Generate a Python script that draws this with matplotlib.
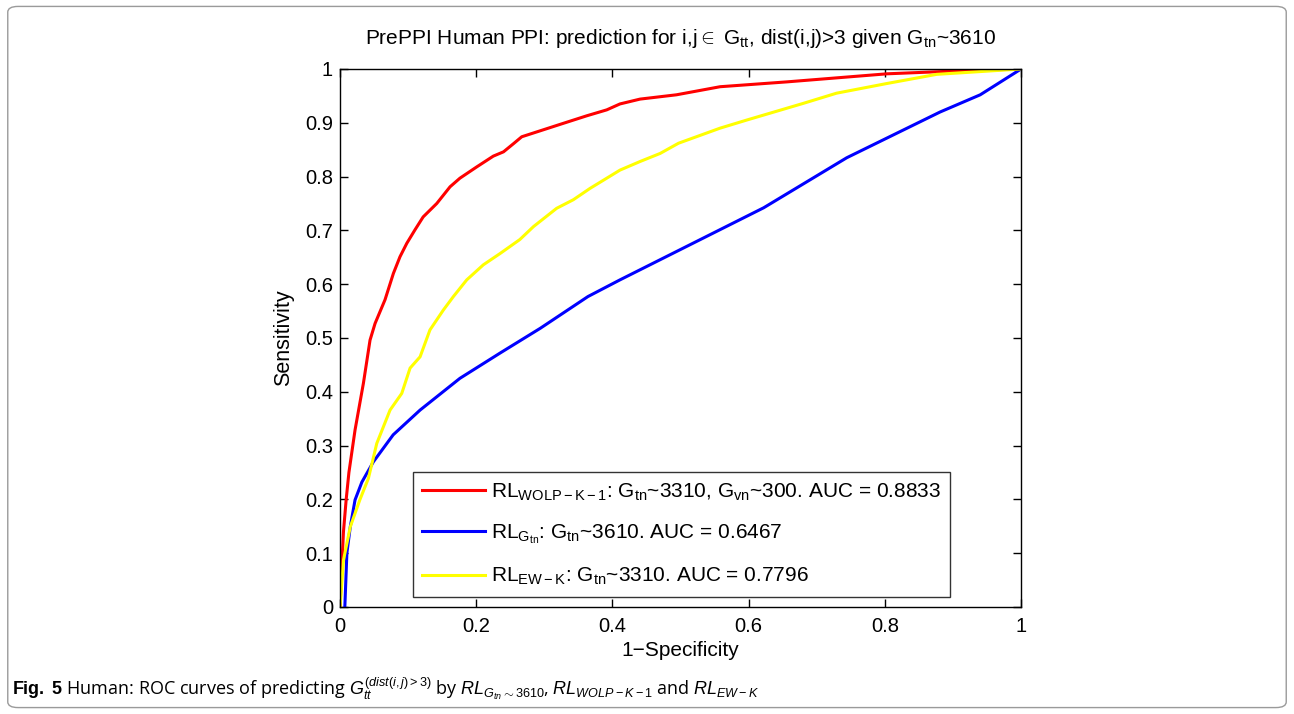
import numpy as np
import matplotlib
matplotlib.use('Agg')
import matplotlib.pyplot as plt
import matplotlib.patches as mpatches

plt.rcParams['font.family'] = ['Liberation Sans', 'DejaVu Sans']
plt.rcParams['mathtext.fontset'] = 'custom'
plt.rcParams['mathtext.rm'] = 'Liberation Sans'
plt.rcParams['mathtext.it'] = 'Liberation Sans:italic'
plt.rcParams['mathtext.bf'] = 'Liberation Sans:bold'

# ROC curves (1-specificity, sensitivity)
fpr_wolp = [0, 0.002, 0.005, 0.009, 0.013, 0.022, 0.0343, 0.044, 0.0514, 0.066,
            0.0783, 0.088, 0.098, 0.110, 0.122, 0.142, 0.1615, 0.176, 0.2007, 0.225,
            0.240, 0.2545, 0.2668, 0.2937, 0.323, 0.3623, 0.3916, 0.411, 0.4405, 0.494,
            0.558, 0.656, 0.803, 0.900, 1.0]
tpr_wolp = [0, 0.06, 0.14, 0.20, 0.25, 0.329, 0.416, 0.496, 0.527, 0.571,
            0.620, 0.651, 0.676, 0.701, 0.725, 0.750, 0.781, 0.797, 0.818, 0.838,
            0.846, 0.861, 0.874, 0.885, 0.897, 0.913, 0.924, 0.935, 0.944, 0.952,
            0.967, 0.976, 0.991, 0.996, 1.0]

fpr_gtn = [0.007, 0.010, 0.015, 0.022, 0.032, 0.049, 0.078, 0.1175, 0.176, 0.235,
           0.294, 0.364, 0.411, 0.622, 0.744, 0.881, 0.940, 1.0]
tpr_gtn = [0, 0.100, 0.149, 0.199, 0.232, 0.270, 0.320, 0.366, 0.425, 0.472,
           0.518, 0.577, 0.608, 0.742, 0.835, 0.920, 0.952, 1.0]

fpr_ewk = [0, 0.005, 0.015, 0.029, 0.0416, 0.0539, 0.0734, 0.0906, 0.1028, 0.1175,
           0.132, 0.1517, 0.1664, 0.186, 0.2104, 0.235, 0.264, 0.284, 0.318, 0.3426,
           0.367, 0.3916, 0.411, 0.4405, 0.470, 0.497, 0.558, 0.597, 0.680, 0.729,
           0.803, 0.876, 1.0]
tpr_ewk = [0, 0.087, 0.149, 0.199, 0.239, 0.304, 0.366, 0.397, 0.444, 0.465,
           0.515, 0.552, 0.577, 0.608, 0.636, 0.657, 0.683, 0.707, 0.741, 0.757,
           0.778, 0.797, 0.812, 0.828, 0.843, 0.862, 0.890, 0.905, 0.936, 0.955,
           0.973, 0.990, 1.0]

labels = [r'RL$_{\rm WOLP-K-1}$: G$_{\rm tn}$~3310, G$_{\rm vn}$~300. AUC = 0.8833',
          r'RL$_{\rm G_{tn}}$: G$_{\rm tn}$~3610. AUC = 0.6467',
          r'RL$_{\rm EW-K}$: G$_{\rm tn}$~3310. AUC = 0.7796']

fig = plt.figure(figsize=(12.94, 7.14), dpi=100)
ax = fig.add_axes([0.2628, 0.1499, 0.5263, 0.7535])

ax.plot(fpr_wolp, tpr_wolp, color='#ff0000', lw=2.2, label=labels[0])
ax.plot(fpr_gtn, tpr_gtn, color='#0000ff', lw=2.2, label=labels[1])
ax.plot(fpr_ewk, tpr_ewk, color='#ffff00', lw=2.2, label=labels[2])

ax.set_xlim(0, 1)
ax.set_ylim(0, 1)
ax.set_xticks(np.arange(0, 1.01, 0.2))
ax.set_xticklabels(['0', '0.2', '0.4', '0.6', '0.8', '1'])
ax.set_yticks(np.arange(0, 1.01, 0.1))
ax.set_yticklabels(['0', '0.1', '0.2', '0.3', '0.4', '0.5', '0.6', '0.7', '0.8', '0.9', '1'])
ax.tick_params(direction='in', top=True, right=True, labelsize=14.5, length=6, width=1)
ax.tick_params(axis='x', pad=7)
ax.tick_params(axis='y', pad=5)
for s in ax.spines.values():
    s.set_linewidth(1)

ax.set_xlabel('1\u2212Specificity', fontsize=15, labelpad=4)
ax.set_ylabel('Sensitivity', fontsize=15.5, labelpad=8)
ax.set_title(r'PrePPI Human PPI: prediction for i,j$\in$ G$_{\rm tt}$, dist(i,j)>3 given G$_{\rm tn}$~3610',
             fontsize=15, pad=18)

leg = ax.legend(loc='lower left', bbox_to_anchor=(0.107, 0.019), borderaxespad=0,
                fontsize=15, frameon=True, fancybox=False, edgecolor='black',
                handlelength=3.0, handletextpad=0.3, labelspacing=0.95,
                borderpad=0.45)
leg.get_frame().set_linewidth(1)

# caption and outer frame
fig.text(0.0093, 0.027,
         r'$\mathbf{Fig.\ 5}$ Human: ROC curves of predicting $G_{tt}^{(dist(i,j)>3)}$ by '
         r'$RL_{G_{tn}\sim3610}$, $RL_{WOLP-K-1}$ and $RL_{EW-K}$',
         fontsize=13, family=['Open Sans', 'DejaVu Sans'], va='baseline')

frame = mpatches.FancyBboxPatch((0.006, 0.009), 0.988, 0.982,
                                boxstyle='round,pad=0,rounding_size=0.008',
                                transform=fig.transFigure, fill=False,
                                edgecolor='#9a9a9a', lw=1)
fig.patches.append(frame)

fig.savefig('out.png', dpi=100)
